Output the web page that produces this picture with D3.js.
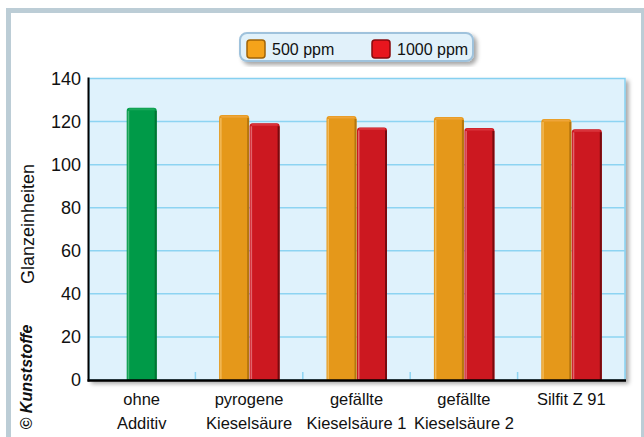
<!DOCTYPE html>
<html><head><meta charset="utf-8">
<script src="https://cdn.jsdelivr.net/npm/d3@7"></script>
<style>
html,body{margin:0;padding:0;background:#fff;}
svg{display:block;font-family:"Liberation Sans",Arial,sans-serif;}
</style></head>
<body>
<svg id="c" width="644" height="437"></svg>
<script>
const categories = [["ohne","Additiv"],["pyrogene","Kieselsäure"],["gefällte","Kieselsäure 1"],["gefällte","Kieselsäure 2"],["Silfit Z 91"]];
const categoryKeys = ["ohne Additiv","pyrogene Kieselsäure","gefällte Kieselsäure 1","gefällte Kieselsäure 2","Silfit Z 91"];
const seriesNames = ["500 ppm","1000 ppm"];
const reference = [126.4];              // ohne Additiv (green)
const values500 = [null,123.0,122.6,122.1,121.2];
const values1000 = [null,119.2,117.3,117.0,116.4];
const yTicks = [0,20,40,60,80,100,120,140];
const yTitle = "Glanzeinheiten";
const credit = "© Kunststoffe";

const svg = d3.select("#c");
const defs = svg.append("defs");
const sh = defs.append("filter").attr("id","sh").attr("x","-10%").attr("y","-10%").attr("width","130%").attr("height","130%");
sh.append("feDropShadow").attr("dx",3).attr("dy",3).attr("stdDeviation",2).attr("flood-color","#000").attr("flood-opacity",0.35);

// outer frame
svg.append("rect").attr("x",8.5).attr("y",10.5).attr("width",635).attr("height",440)
  .attr("fill","#fff").attr("stroke","#bccdd6").attr("stroke-width",5);

const L=89, R=625, T=78.5, B=380;
const x = d3.scaleBand().domain(categoryKeys).range([L-1,R]);
const y = d3.scaleLinear().domain([0,140]).range([B,T]);
const x1 = d3.scaleBand().domain(seriesNames).range([-30,30]);

// plot background with shadow
svg.append("rect").attr("x",L).attr("y",T).attr("width",R-L).attr("height",B-T)
  .attr("fill","#dff2fc").attr("stroke","#86d0f0").attr("stroke-width",1.5).attr("filter","url(#sh)");

// gridlines
svg.append("g").selectAll("line").data(yTicks.filter(t=>t>0&&t<140)).join("line")
  .attr("x1",L).attr("x2",R).attr("y1",d=>y(d)).attr("y2",d=>y(d))
  .attr("stroke","#8dd4f2").attr("stroke-width",1.5);

// category separators
svg.append("g").selectAll("line").data(categoryKeys.slice(1)).join("line")
  .attr("x1",d=>x(d)).attr("x2",d=>x(d)).attr("y1",B).attr("y2",B-8)
  .attr("stroke","#8dd4f2").attr("stroke-width",1.5);

const palettes = {
  green:{main:"#009a48",light:"#46b878",dark:"#007434",top:"#1aa85a"},
  orange:{main:"#e5981a",light:"#f2ba58",dark:"#b5760e",top:"#eea53a"},
  red:{main:"#cc1820",light:"#e0646c",dark:"#780a0e",top:"#d9333b"}
};
function bar(g, x0, w, v, p){
  const yt = y(v);
  const gg = g.append("g");
  gg.append("path").attr("d",`M${x0},${B} V${yt+3} Q${x0},${yt} ${x0+3},${yt} H${x0+w-3} Q${x0+w},${yt} ${x0+w},${yt+3} V${B} Z`)
    .attr("fill",p.main);
  gg.append("rect").attr("x",x0+1).attr("y",yt+3).attr("width",1.5).attr("height",B-yt-4).attr("fill",p.light);
  gg.append("rect").attr("x",x0+w-2).attr("y",yt+3).attr("width",2).attr("height",B-yt-3).attr("fill",p.dark);
  gg.append("rect").attr("x",x0+2).attr("y",yt+0.5).attr("width",w-4).attr("height",2).attr("fill",p.top);
}
const bars = svg.append("g");
reference.forEach((v)=>{
  const c = x(categoryKeys[0]) + x.bandwidth()/2;
  bar(bars, c-15, 30, v, palettes.green);
});
categoryKeys.forEach((k,i)=>{
  const c = x(k) + x.bandwidth()/2;
  if(values500[i]!=null) bar(bars, c + x1(seriesNames[0]), x1.bandwidth(), values500[i], palettes.orange);
  if(values1000[i]!=null) bar(bars, c + x1(seriesNames[1]) + 0.5, x1.bandwidth(), values1000[i], palettes.red);
});

// axes lines
svg.append("line").attr("x1",L-0.5).attr("x2",L-0.5).attr("y1",T-1).attr("y2",B+1.5).attr("stroke","#000").attr("stroke-width",2);
svg.append("line").attr("x1",L-1.5).attr("x2",R+1).attr("y1",B+0.5).attr("y2",B+0.5).attr("stroke","#000").attr("stroke-width",2.5);

// y tick labels
svg.append("g").selectAll("text").data(yTicks).join("text")
  .attr("x",81).attr("y",d=>y(d)).attr("dy","0.35em").attr("text-anchor","end")
  .attr("font-size",18).attr("fill","#111").text(d=>d);

// category labels
const cl = svg.append("g").selectAll("text").data(categoryKeys).join("text")
  .attr("text-anchor","middle").attr("font-size",16.5).attr("fill","#111");
cl.each(function(k,i){
  const t = d3.select(this);
  const cx = x(k)+x.bandwidth()/2;
  categories[i].forEach((ln,j)=>{
    t.append("tspan").attr("x",cx).attr("y",405+j*24).text(ln);
  });
});

// y title
svg.append("text").attr("transform","translate(34,224) rotate(-90)").attr("text-anchor","middle")
  .attr("font-size",18).attr("fill","#111").text(yTitle);
svg.append("text").attr("transform","translate(32,377) rotate(-90)").attr("text-anchor","middle")
  .attr("font-size",16).attr("font-weight","bold").attr("font-style","italic").attr("fill","#111").text(credit);

// legend
const lg = svg.append("g");
lg.append("rect").attr("x",240).attr("y",33).attr("width",233).attr("height",28).attr("rx",7)
  .attr("fill","#e1f1fa").attr("stroke","#9fc2dc").attr("stroke-width",2).attr("filter","url(#sh)");
const legendItems = [
  {name:seriesNames[0], sx:247, tx:272, fill:"#f5a31a", stroke:"#a06408"},
  {name:seriesNames[1], sx:372, tx:397, fill:"#e8161e", stroke:"#860a0e"}
];
legendItems.forEach(it=>{
  lg.append("rect").attr("x",it.sx).attr("y",40).attr("width",18).attr("height",18).attr("rx",3)
    .attr("fill",it.fill).attr("stroke",it.stroke).attr("stroke-width",1.5);
  lg.append("text").attr("x",it.tx).attr("y",55).attr("font-size",16).attr("fill","#111").text(it.name);
});
</script>
</body></html>
